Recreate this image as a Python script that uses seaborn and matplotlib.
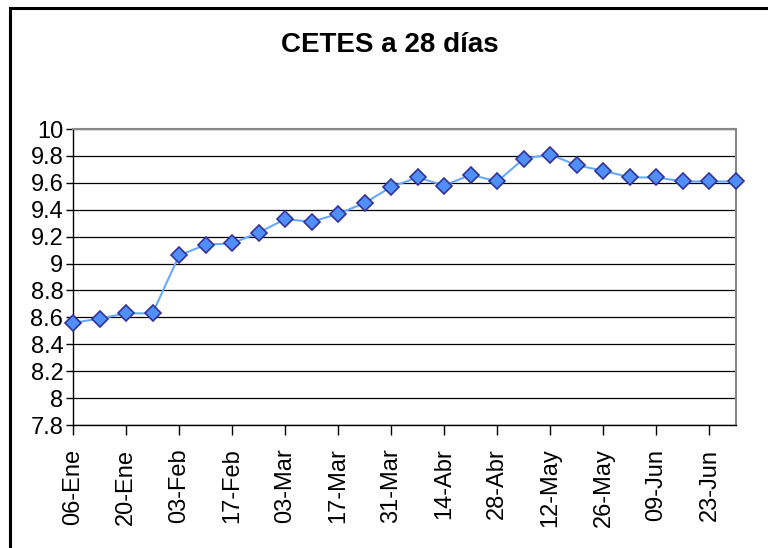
import matplotlib
matplotlib.use("Agg")
import matplotlib.pyplot as plt
import seaborn as sns
import pandas as pd
from matplotlib.patches import Rectangle

# Data
dates = ["06-Ene", "13-Ene", "20-Ene", "27-Ene", "03-Feb", "10-Feb", "17-Feb", "24-Feb",
         "03-Mar", "10-Mar", "17-Mar", "24-Mar", "31-Mar", "07-Abr", "14-Abr", "21-Abr",
         "28-Abr", "05-May", "12-May", "19-May", "26-May", "02-Jun", "09-Jun", "16-Jun",
         "23-Jun", "30-Jun"]
values = [8.56, 8.59, 8.63, 8.63, 9.06, 9.14, 9.15, 9.23, 9.33, 9.31, 9.37, 9.45, 9.57,
          9.64, 9.58, 9.66, 9.61, 9.78, 9.81, 9.73, 9.69, 9.64, 9.64, 9.61, 9.61, 9.61]
yticks = [7.8, 8, 8.2, 8.4, 8.6, 8.8, 9, 9.2, 9.4, 9.6, 9.8, 10]
ytick_labels = ["7.8", "8", "8.2", "8.4", "8.6", "8.8", "9", "9.2", "9.4", "9.6", "9.8", "10"]
title = "CETES a 28 días"

df = pd.DataFrame({"idx": range(len(dates)), "fecha": dates, "tasa": values})

sns.set_style("white")
plt.rcParams["font.family"] = ["Liberation Sans", "DejaVu Sans"]
plt.rcParams["text.color"] = "#000000"
plt.rcParams["xtick.color"] = "#000000"
plt.rcParams["ytick.color"] = "#000000"
plt.rcParams["xtick.labelcolor"] = "#000000"
plt.rcParams["ytick.labelcolor"] = "#000000"

fig = plt.figure(figsize=(7.68, 5.48), dpi=100)
ax = fig.add_axes([73 / 768, 1 - 425 / 548, (736 - 73) / 768, (425 - 129) / 548])

sns.lineplot(data=df, x="idx", y="tasa", ax=ax, color="#66AAFF", linewidth=1.5,
             marker="D", markersize=8, markerfacecolor="#4F8FF7",
             markeredgecolor="#333399", markeredgewidth=1.2, zorder=3, clip_on=False)

ax.set_xlim(0, len(dates) - 1)
ax.set_ylim(7.8, 10)
ax.set_yticks(yticks)
ax.set_yticklabels(ytick_labels, fontsize=17)
tick_pos = list(range(0, len(dates), 2))
ax.set_xticks(tick_pos)
ax.set_xticklabels([dates[i] for i in tick_pos], rotation=90, fontsize=17,
                   va="top", ha="center")
ax.set_xlabel("")
ax.set_ylabel("")

ax.yaxis.grid(True, color="#000000", linewidth=0.9)
ax.xaxis.grid(False)
ax.set_axisbelow(True)

ax.tick_params(axis="x", direction="out", length=7, width=1, color="#000000", pad=10)
ax.tick_params(axis="y", direction="out", length=5, width=1, color="#000000", pad=2)
ax.tick_params(bottom=True, left=True)

for side in ["left", "bottom"]:
    ax.spines[side].set_color("#000000")
    ax.spines[side].set_linewidth(1)
for side in ["top", "right"]:
    ax.spines[side].set_color("#888888")
    ax.spines[side].set_linewidth(1.5)
    ax.spines[side].set_visible(True)

fig.text(390 / 768, 1 - 45 / 548, title, ha="center", va="center",
         fontsize=20, fontweight="bold", color="#000000")

# outer chart-area border
fig.patches.append(Rectangle((10 / 768, -0.1), 1.0, 1 - 8 / 548 + 0.1,
                             transform=fig.transFigure, fill=False,
                             edgecolor="#000000", linewidth=2.2))

fig.savefig("out.png", dpi=100)
